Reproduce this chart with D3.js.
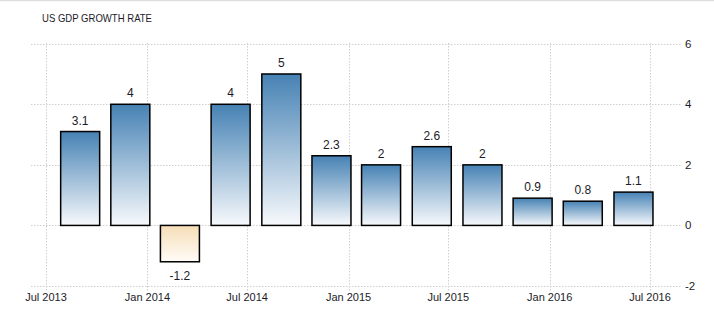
<!DOCTYPE html>
<html>
<head>
<meta charset="utf-8">
<script src="https://cdn.jsdelivr.net/npm/d3@7"></script>
<style>
  body { margin: 0; background: #fff; }
  text { font-family: "Liberation Sans", Arial, sans-serif; fill: #1c1c28; }
</style>
</head>
<body>
<svg id="chart" width="714" height="320"></svg>
<script>
// quarterly data, plotted at the start of each quarter's last month
const quarters = ['2013-09-01', '2013-12-01', '2014-03-01', '2014-06-01', '2014-09-01', '2014-12-01',
  '2015-03-01', '2015-06-01', '2015-09-01', '2015-12-01', '2016-03-01', '2016-06-01'];
const growth = [3.1, 4, -1.2, 4, 5, 2.3, 2, 2.6, 2, 0.9, 0.8, 1.1];
const xTicks = ['2013-07-01', '2014-01-01', '2014-07-01', '2015-01-01', '2015-07-01', '2016-01-01', '2016-07-01'];
const yTicks = [-2, 0, 2, 4, 6];

const width = 714;
const height = 320;
const plotLeft = 31;
const plotRight = 682;

const parse = d3.utcParse('%Y-%m-%d');
const data = quarters.map((q, i) => ({date: parse(q), value: growth[i]}));

const xscale = d3.scaleUtc()
  .domain([parse(xTicks[0]), parse(xTicks[xTicks.length - 1])])
  .range([46, 650]);

const yscale = d3.scaleLinear()
  .domain([-2, 6])
  .range([286, 43.7]);

const barWidth = 39;

const svg = d3.select('#chart');

// thin border at the top
svg.append('line')
  .attr('x1', 0).attr('x2', width)
  .attr('y1', 0.5).attr('y2', 0.5)
  .attr('stroke', '#dedede')
  .attr('stroke-width', 1.5);

const defs = svg.append('defs');
const blue = defs.append('linearGradient')
  .attr('id', 'blue').attr('x1', 0).attr('x2', 0).attr('y1', 0).attr('y2', 1);
blue.append('stop').attr('offset', '0%').attr('stop-color', '#4682b4');
blue.append('stop').attr('offset', '100%').attr('stop-color', '#f7f9fc');
const wheat = defs.append('linearGradient')
  .attr('id', 'wheat').attr('x1', 0).attr('x2', 0).attr('y1', 0).attr('y2', 1);
wheat.append('stop').attr('offset', '0%').attr('stop-color', '#f6ddb6');
wheat.append('stop').attr('offset', '100%').attr('stop-color', '#fffcf8');

svg.append('text')
  .text('US GDP GROWTH RATE')
  .attr('x', 42)
  .attr('y', 22)
  .attr('font-size', 11.5)
  .attr('textLength', 110)
  .attr('lengthAdjust', 'spacingAndGlyphs');

// grid
const grid = svg.append('g')
  .attr('stroke', '#cfcfcf')
  .attr('stroke-dasharray', '1.5,1.5');

grid.selectAll('.hgrid')
  .data(yTicks)
  .enter()
  .append('line')
  .attr('x1', plotLeft)
  .attr('x2', plotRight)
  .attr('y1', (d) => Math.round(yscale(d)) + 0.5)
  .attr('y2', (d) => Math.round(yscale(d)) + 0.5);

grid.selectAll('.vgrid')
  .data(xTicks)
  .enter()
  .append('line')
  .attr('x1', (d) => Math.round(xscale(parse(d))) + 0.5)
  .attr('x2', (d) => Math.round(xscale(parse(d))) + 0.5)
  .attr('y1', 43)
  .attr('y2', 292);

// axis labels
svg.append('g')
  .selectAll('text')
  .data(yTicks)
  .enter()
  .append('text')
  .attr('x', 685)
  .attr('y', (d) => yscale(d) + 4)
  .attr('font-size', 11.5)
  .text((d) => d);

const fmt = d3.utcFormat('%b %Y');
svg.append('g')
  .selectAll('text')
  .data(xTicks)
  .enter()
  .append('text')
  .attr('x', (d) => xscale(parse(d)))
  .attr('y', 301)
  .attr('text-anchor', 'middle')
  .attr('font-size', 11)
  .text((d) => fmt(parse(d)));

// bars
svg.append('g')
  .selectAll('rect')
  .data(data)
  .enter()
  .append('rect')
  .attr('x', (d) => xscale(d.date) - barWidth / 2)
  .attr('y', (d) => yscale(Math.max(0, d.value)))
  .attr('width', barWidth)
  .attr('height', (d) => Math.abs(yscale(d.value) - yscale(0)))
  .attr('fill', (d) => d.value < 0 ? 'url(#wheat)' : 'url(#blue)')
  .attr('stroke', '#000')
  .attr('stroke-width', 1.5);

svg.append('g')
  .selectAll('text')
  .data(data)
  .enter()
  .append('text')
  .attr('x', (d) => xscale(d.date))
  .attr('y', (d) => d.value < 0 ? yscale(d.value) + 18 : yscale(d.value) - 7)
  .attr('text-anchor', 'middle')
  .attr('font-size', 12)
  .text((d) => d.value);
</script>
</body>
</html>
